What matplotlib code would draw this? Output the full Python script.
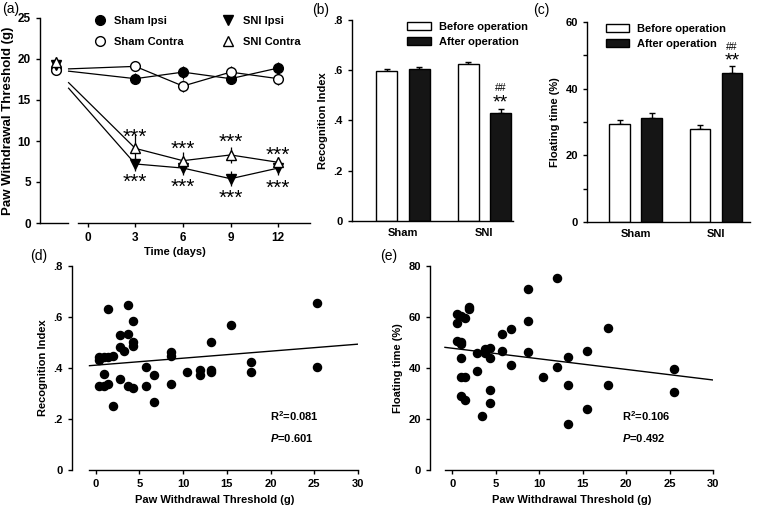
import numpy as np
import matplotlib
matplotlib.use('Agg')
import matplotlib.pyplot as plt

plt.rcParams['font.family'] = ['Liberation Sans', 'DejaVu Sans']
plt.rcParams['font.weight'] = 'bold'
plt.rcParams['axes.labelweight'] = 'bold'
plt.rcParams['mathtext.fontset'] = 'custom'
plt.rcParams['mathtext.it'] = 'Liberation Sans:italic:bold'
plt.rcParams['mathtext.rm'] = 'Liberation Sans:bold'

# (a) paw withdrawal threshold over time
days = [3, 6, 9, 12]
base_x = -2
sham_ipsi = [18.8, 17.6, 18.4, 17.6, 18.9]
sham_contra = [18.7, 19.1, 16.7, 18.4, 17.6]
sni_ipsi = [19.3, 7.2, 6.7, 5.4, 6.7]
sni_contra = [19.6, 9.1, 7.6, 8.3, 7.4]
sham_ipsi_err = [0.6, 0.7, 0.8, 0.6, 0.7]
sham_contra_err = [0.6, 0.6, 0.7, 0.7, 0.8]
sni_ipsi_err = [0.6, 0.8, 0.8, 0.9, 0.8]
sni_contra_err = [0.6, 1.8, 1.1, 1.0, 0.6]
stars_up_y = [10.5, 9.0, 9.8, 8.2]
stars_down_y = [5.0, 4.4, 3.0, 4.25]

# (b), (c) bars
groups = ['Sham', 'SNI']
ri_before = [0.597, 0.624]
ri_after = [0.605, 0.430]
ri_before_err = [0.007, 0.009]
ri_after_err = [0.009, 0.015]
ft_before = [29.5, 28.0]
ft_after = [31.3, 44.8]
ft_before_err = [1.0, 1.1]
ft_after_err = [1.4, 2.0]

# (d), (e) correlations
pwt_d = [1.37, 3.65, 4.3, 2.78, 3.65, 4.3, 4.3, 2.78, 3.27, 0.38, 0.38, 0.95, 1.37, 1.94,
         0.95, 0.38, 0.95, 1.37, 1.94, 2.78, 3.65, 4.3, 5.71, 5.71, 6.66, 6.66, 8.64, 8.64,
         8.64, 10.4, 11.9, 11.9, 13.2, 13.2, 13.2, 15.45, 17.8, 17.8, 25.35, 25.35]
ri_d = [0.631, 0.647, 0.586, 0.529, 0.532, 0.503, 0.488, 0.481, 0.467, 0.442, 0.431, 0.444,
        0.444, 0.447, 0.376, 0.329, 0.329, 0.336, 0.252, 0.356, 0.329, 0.320, 0.403, 0.329,
        0.373, 0.265, 0.464, 0.447, 0.336, 0.383, 0.392, 0.373, 0.503, 0.392, 0.383, 0.569,
        0.422, 0.383, 0.656, 0.403]
fit_d = (0.00275, 0.411)
pwt_e = [0.5, 0.5, 1.0, 1.46, 1.95, 1.95, 0.5, 1.0, 1.0, 1.0, 1.0, 1.46, 1.0, 1.46, 2.8, 2.8,
         3.37, 3.75, 3.75, 4.33, 4.33, 4.33, 4.33, 5.78, 5.78, 6.74, 6.74, 8.74, 8.74, 8.74,
         10.46, 12.03, 12.03, 13.26, 13.26, 13.26, 15.52, 15.52, 17.9, 17.9, 25.5, 25.5]
ft_e = [61.0, 57.8, 60.4, 59.5, 63.8, 63.0, 50.7, 50.1, 49.3, 43.8, 36.6, 36.3, 29.2, 27.5,
        46.0, 39.0, 21.3, 47.5, 46.0, 48.0, 43.8, 31.2, 26.1, 53.3, 46.8, 55.2, 41.2, 71.0,
        58.4, 46.4, 36.6, 75.2, 40.5, 44.4, 33.3, 17.9, 46.7, 23.8, 55.6, 33.3, 39.6, 30.7]
fit_e = (-0.415, 47.75)

W, H = 760, 508
fig = plt.figure(figsize=(W / 100, H / 100), dpi=100)


def px_axes(left, top, right, bottom):
    return fig.add_axes([left / W, 1 - bottom / H, (right - left) / W, (bottom - top) / H])


def style(ax, size=8):
    ax.spines['top'].set_visible(False)
    ax.spines['right'].set_visible(False)
    ax.tick_params(labelsize=size, width=1, length=3, direction='out')
    for s in ['left', 'bottom']:
        ax.spines[s].set_linewidth(1)


# ---- (a)
ax = px_axes(40, 18, 310, 223)
style(ax, 8.5)
ax.set_xlim(-3, 14)
ax.set_ylim(0, 25)
ax.spines['bottom'].set_bounds(-0.63, 14)
ax.plot([-3, -1.26], [0, 0], color='k', lw=1, clip_on=False)
ax.set_xticks([0, 3, 6, 9, 12])
ax.set_yticks([0, 5, 10, 15, 20, 25])
series = [(sham_ipsi, sham_ipsi_err, 'o', 'k', 'Sham Ipsi'),
          (sham_contra, sham_contra_err, 'o', 'w', 'Sham Contra'),
          (sni_ipsi, sni_ipsi_err, 'v', 'k', 'SNI Ipsi'),
          (sni_contra, sni_contra_err, '^', 'w', 'SNI Contra')]
anchor = -2.5
for vals, err, mk, fc, lab in series:
    # joining line starts right after the axis break
    y_start = np.interp(-1.2, [anchor, days[0]], [vals[0], vals[1]])
    ax.plot([-1.2] + days, [y_start] + vals[1:], color='k', lw=0.9, zorder=2)
    ax.errorbar([base_x] + days, vals, yerr=err, fmt='none', ecolor='k', elinewidth=0.9, capsize=0, zorder=3)
    ax.plot([base_x] + days, vals, ls='none', marker=mk, ms=7, mfc=fc, mec='k', mew=1, zorder=4, label=lab)
for d, yu, yd in zip(days, stars_up_y, stars_down_y):
    ax.text(d, yu, '***', ha='center', va='center', fontsize=15, fontweight='normal')
    ax.text(d, yd, '***', ha='center', va='center', fontsize=15, fontweight='normal')
ax.set_xlabel('Time (days)', fontsize=8, labelpad=2)
ax.set_ylabel('Paw Withdrawal Threshold (g)', fontsize=9.5, labelpad=3)
ax.legend(ncol=2, frameon=False, fontsize=8, loc='upper left', bbox_to_anchor=(0.16, 1.035),
          columnspacing=3.0, labelspacing=0.95, handletextpad=0.3, borderpad=0)
fig.text(2 / W, 1 - 9 / H, '(a)', fontsize=10, fontweight='normal', va='center')

# ---- (b) and (c)
def bar_panel(ax, before, after, before_err, after_err, ylim, yticks, yticklabels, ylabel, xlim, marks, leg_x):
    style(ax)
    x = np.arange(len(groups))
    off, w = 0.2, 0.26
    ax.bar(x - off, before, w, color='w', edgecolor='k', lw=1, label='Before operation', zorder=2)
    ax.bar(x + off, after, w, color='#151515', edgecolor='k', lw=1, label='After operation', zorder=2)
    ax.errorbar(x - off, before, yerr=[np.zeros(2), before_err], fmt='none', ecolor='k', elinewidth=1, capsize=2.5, zorder=1)
    ax.errorbar(x + off, after, yerr=[np.zeros(2), after_err], fmt='none', ecolor='k', elinewidth=1, capsize=2.5, zorder=1)
    ax.set_xlim(*xlim)
    ax.set_ylim(*ylim)
    ax.set_yticks(yticks)
    ax.set_yticklabels(yticklabels)
    ax.set_xticks(x)
    ax.set_xticklabels(groups)
    ax.tick_params(axis='x', length=0, pad=5)
    ax.set_ylabel(ylabel, fontsize=8)
    ax.legend(frameon=False, fontsize=8, loc='upper left', bbox_to_anchor=(leg_x, 1.02),
              borderpad=0, handlelength=2.1, handletextpad=0.7, labelspacing=0.45)
    ax.text(1 + off, marks[0], '##', ha='center', va='center', fontsize=7.5, fontweight='normal')
    ax.text(1 + off, marks[1], '**', ha='center', va='center', fontsize=14, fontweight='normal')


ax = px_axes(352, 20, 513, 221)
bar_panel(ax, ri_before, ri_after, ri_before_err, ri_after_err, (0, 0.8),
          [0, 0.2, 0.4, 0.6, 0.8], ['0', '.2', '.4', '.6', '.8'], 'Recognition Index',
          (-0.626, 1.35), (0.53, 0.47), 0.31)
fig.text(312 / W, 1 - 10 / H, '(b)', fontsize=10, fontweight='normal', va='center')

ax = px_axes(587, 22, 750, 222)
bar_panel(ax, ft_before, ft_after, ft_before_err, ft_after_err, (0, 60),
          [0, 20, 40, 60], ['0', '20', '40', '60'], 'Floating time (%)',
          (-0.61, 1.425), (52.5, 48.4), 0.08)
ax.set_yticks([10, 30, 50], minor=True)
ax.tick_params(axis='y', which='minor', length=3, width=1)
fig.text(533 / W, 1 - 10 / H, '(c)', fontsize=10, fontweight='normal', va='center')

# ---- (d) and (e)
def scatter_panel(ax, xs, ys, fit, xlim, x0, ylim, yticks, yticklabels, ylabel, r2, p, txt_x, txt_y):
    style(ax)
    ax.scatter(xs, ys, s=34, color='k', zorder=3)
    fx = np.array([x0, 30])
    ax.plot(fx, fit[0] * fx + fit[1], color='k', lw=1)
    ax.set_xlim(*xlim)
    ax.set_ylim(*ylim)
    ax.spines['bottom'].set_bounds(x0, 30)
    ax.set_xticks([0, 5, 10, 15, 20, 25, 30])
    ax.set_yticks(yticks)
    ax.set_yticklabels(yticklabels)
    ax.set_xlabel('Paw Withdrawal Threshold (g)', fontsize=8)
    ax.set_ylabel(ylabel, fontsize=8)
    ax.text(txt_x, txt_y[0], 'R$^{2}$=' + r2, fontsize=8, va='center')
    ax.text(txt_x, txt_y[1], '$\\mathit{P}$=' + p, fontsize=8, va='center')


ax = px_axes(72, 266, 358, 470)
scatter_panel(ax, pwt_d, ri_d, fit_d, (-2.7, 30), -0.7, (0, 0.8), [0, 0.2, 0.4, 0.6, 0.8],
              ['0', '.2', '.4', '.6', '.8'], 'Recognition Index', '0.081', '0.601', 19.9, (0.21, 0.125))
fig.text(30 / W, 1 - 256 / H, '(d)', fontsize=10, fontweight='normal', va='center')

ax = px_axes(430, 266, 713, 470)
scatter_panel(ax, pwt_e, ft_e, fit_e, (-2.56, 30), -0.84, (0, 80), [0, 20, 40, 60, 80],
              ['0', '20', '40', '60', '80'], 'Floating time (%)', '0.106', '0.492', 19.5, (21.2, 12.5))
fig.text(380 / W, 1 - 256 / H, '(e)', fontsize=10, fontweight='normal', va='center')

plt.savefig('out.png', dpi=100)
